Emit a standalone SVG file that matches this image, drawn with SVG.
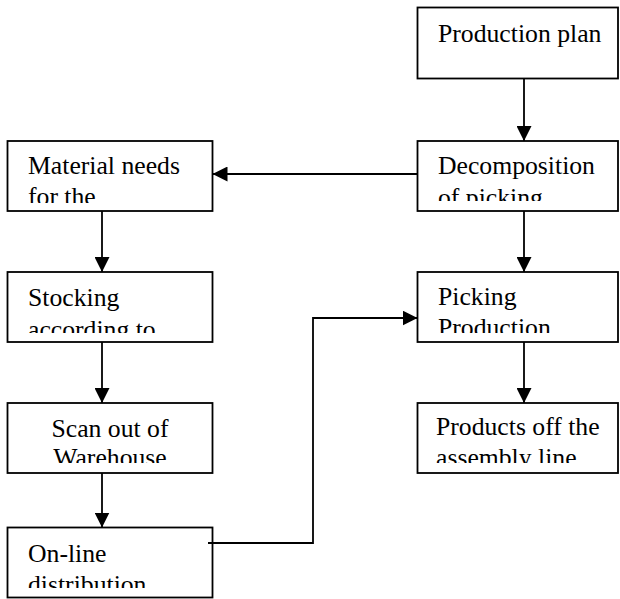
<svg xmlns="http://www.w3.org/2000/svg" width="620" height="599" viewBox="0 0 620 599">
<style>
.box{fill:#fff;stroke:#000;stroke-width:1.8}
.t{font-family:"Liberation Serif","Times New Roman",serif;font-size:25.7px;fill:#000}
.c{text-anchor:middle}
.conn{fill:none;stroke:#000;stroke-width:1.8}
</style>
<defs>
<marker id="ah" markerUnits="userSpaceOnUse" markerWidth="15" markerHeight="15" refX="15" refY="7.5" orient="auto">
<path d="M0,0 L15,7.5 L0,15 z" fill="#000"/>
</marker>
<clipPath id="cMN"><rect x="8" y="142" width="204" height="61"/></clipPath>
<clipPath id="cDC"><rect x="418" y="142" width="200" height="59"/></clipPath>
<clipPath id="cST"><rect x="8" y="273" width="204" height="60"/></clipPath>
<clipPath id="cPK"><rect x="418" y="273" width="200" height="60"/></clipPath>
<clipPath id="cSO"><rect x="8" y="404" width="204" height="59"/></clipPath>
<clipPath id="cPO"><rect x="418" y="404" width="200" height="59"/></clipPath>
<clipPath id="cOL"><rect x="8" y="528" width="204" height="60"/></clipPath>
</defs>
<g id="connectors">
<line class="conn" x1="524" y1="78.5" x2="524" y2="141" marker-end="url(#ah)"/>
<line class="conn" x1="417.5" y1="174" x2="212.5" y2="174" marker-end="url(#ah)"/>
<line class="conn" x1="524" y1="211" x2="524" y2="272" marker-end="url(#ah)"/>
<line class="conn" x1="524" y1="342" x2="524" y2="403" marker-end="url(#ah)"/>
<line class="conn" x1="102" y1="211" x2="102" y2="272" marker-end="url(#ah)"/>
<line class="conn" x1="102" y1="342" x2="102" y2="403" marker-end="url(#ah)"/>
<line class="conn" x1="102" y1="473" x2="102" y2="527.5" marker-end="url(#ah)"/>
</g>
<g id="production-plan">
<rect class="box" x="417.5" y="7.5" width="200.5" height="71"/>
<text class="t" x="438" y="42">Production plan</text>
</g>
<g id="material-needs">
<rect class="box" x="7.5" y="141" width="205" height="70"/>
<g clip-path="url(#cMN)"><text class="t" x="28" y="174">Material needs</text><text class="t" x="28" y="205">for the</text></g>
</g>
<g id="decomposition">
<rect class="box" x="417.5" y="141" width="200.5" height="70"/>
<g clip-path="url(#cDC)"><text class="t" x="438" y="174">Decomposition</text><text class="t" x="438" y="206">of picking</text></g>
</g>
<g id="stocking">
<rect class="box" x="7.5" y="272" width="205" height="70"/>
<g clip-path="url(#cST)"><text class="t" x="28" y="306">Stocking</text><text class="t" x="28" y="338">according to</text></g>
</g>
<g id="picking-production">
<rect class="box" x="417.5" y="272" width="200.5" height="70"/>
<g clip-path="url(#cPK)"><text class="t" x="438" y="305">Picking</text><text class="t" x="438" y="336">Production</text></g>
</g>
<g id="scan-out">
<rect class="box" x="7.5" y="403" width="205" height="70"/>
<g clip-path="url(#cSO)"><text class="t c" x="110" y="437">Scan out of</text><text class="t c" x="110" y="466">Warehouse</text></g>
</g>
<g id="products-off">
<rect class="box" x="417.5" y="403" width="200.5" height="70"/>
<g clip-path="url(#cPO)"><text class="t" x="436" y="435">Products off the</text><text class="t" x="436" y="466">assembly line</text></g>
</g>
<g id="online-distribution">
<rect class="box" x="7.5" y="527.5" width="205" height="70"/>
<g clip-path="url(#cOL)"><text class="t" x="28" y="562">On-line</text><text class="t" x="28" y="593">distribution</text></g>
</g>
<g id="connector-feed">
<polyline class="conn" points="208,543 313,543 313,318 417.5,318" marker-end="url(#ah)"/>
</g>
</svg>
